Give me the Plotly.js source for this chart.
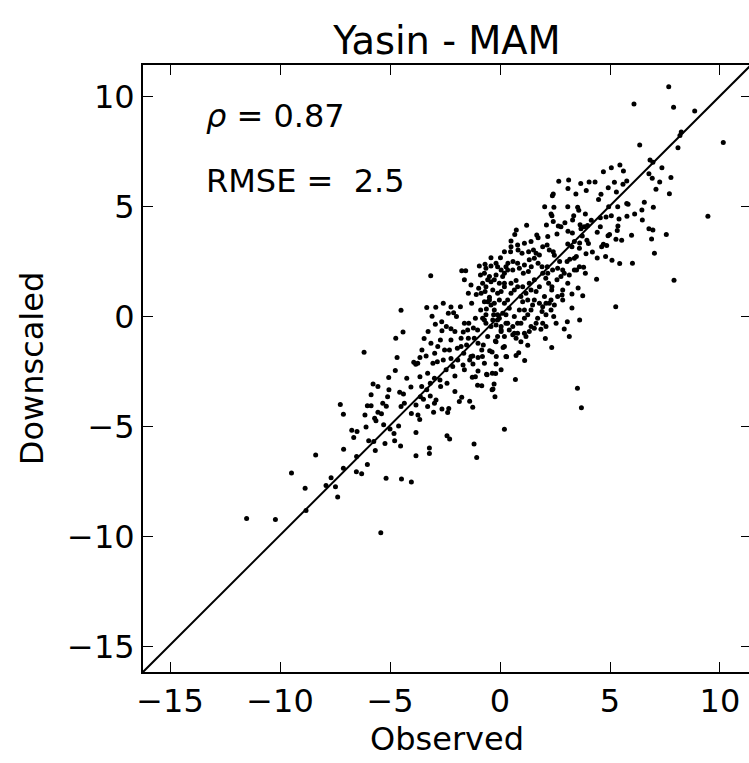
<!DOCTYPE html>
<html>
<head>
<meta charset="utf-8">
<script src="https://cdn.plot.ly/plotly-3.0.1.min.js"></script>
<style>
html, body { margin: 0; padding: 0; overflow: hidden; background: #fff; }
#chart { width: 751px; height: 763px; }
</style>
</head>
<body>
<div id="chart"></div>
<script>
// Observed / Downscaled pairs
const observed = [
7.67,6.09,7.89,8.85,8.24,8.18,6.35,10.15,8.09,6.82,6.95,7.36,6.77,6.92,7.26,7.77,7.09,7.70,5.45,5.06,
4.70,5.61,5.76,5.59,5.20,4.92,5.29,4.59,4.48,4.32,4.05,3.67,3.12,2.67,3.09,3.92,3.45,2.42,2.38,2.03,
2.45,3.08,3.53,3.58,3.35,3.88,2.95,2.32,2.36,2.42,2.65,2.77,2.11,1.21,0.74,0.67,0.50,1.67,1.73,2.59,
3.30,3.64,3.83,3.98,4.15,4.56,4.56,4.42,4.82,5.06,4.94,5.35,5.41,5.36,5.33,5.76,5.82,5.77,6.12,6.56,
6.45,6.47,6.97,6.77,6.95,6.89,5.98,7.56,7.02,6.02,5.44,5.09,4.80,4.42,4.91,4.98,5.27,5.53,4.70,4.85,
4.62,4.20,3.91,4.02,3.95,3.74,3.62,3.61,3.47,3.38,3.17,3.05,3.38,3.27,3.08,3.29,3.68,3.09,4.39,3.88,
3.61,3.48,3.80,3.55,3.76,3.27,2.85,2.82,3.62,3.15,2.92,3.06,3.27,5.26,7.91,9.45,3.52,3.70,2.35,2.06,
1.86,1.26,1.12,0.70,-0.20,-0.23,-0.32,-0.61,-0.18,-0.36,0.30,0.85,0.73,0.14,-0.76,-0.80,
0.48,0.82,1.00,1.30,1.52,1.79,2.14,2.24,2.42,2.47,2.71,2.85,2.77,2.92,2.59,2.36,2.35,2.21,2.08,1.94,
2.15,1.91,1.73,1.56,1.42,1.29,1.06,0.80,0.59,0.36,0.02,-0.41,-0.68,-0.56,-0.18,0.12,0.35,0.50,0.73,1.03,
1.33,1.56,1.79,2.02,2.24,2.47,2.44,2.09,1.91,1.79,1.56,1.26,1.03,0.88,0.65,0.42,0.20,-0.03,-0.26,-0.48,
-0.71,-0.64,-0.33,0.05,0.50,1.41,1.64,1.41,1.11,0.80,0.58,0.35,0.05,-0.11,-0.41,-0.64,-0.79,-0.03,0.27,1.11,
0.95,-0.18,0.20,0.65,
-11.52,-10.21,-8.82,-8.86,-9.48,-8.38,-7.91,-7.68,-7.48,-7.38,-7.12,-7.11,-6.53,-6.29,-6.52,-6.03,-5.42,-5.18,-4.48,-4.03,
-5.67,-5.23,-5.97,-5.74,-6.65,-6.74,-6.50,-6.09,-7.12,-7.26,-6.14,-6.03,-5.86,-5.70,-5.64,-5.55,-5.39,-5.29,-5.17,-5.00,
-4.82,-4.79,-4.52,-4.61,-4.50,-5.86,-5.77,-5.55,-5.06,-5.05,-4.76,-4.56,-4.39,-4.24,-4.05,-4.03,-3.82,-3.73,-3.65,-3.82,
-3.82,-3.21,-3.21,-2.41,-2.29,-1.18,-1.06,0.20,-6.18,-4.68,-4.74,-4.41,-4.50,-3.15,-3.92,-3.83,-3.64,-3.55,-3.64,-3.56,
-3.62,-3.48,-3.17,-2.98,-3.02,-2.91,-2.64,-2.38,-2.33,-2.05,-1.85,-1.74,-1.38,-1.24,-1.12,-1.02,-0.83,-0.36,-0.35,-0.59,
-1.00,-1.26,-1.23,-1.32,-1.68,-2.05,-2.15,-2.41,-2.70,-2.73,-2.98,-3.17,-3.33,-3.29,-3.05,-2.85,-2.97,-3.36,-3.74,-3.45,
-3.27,-3.09,-2.94,-3.33,-2.92,-2.58,-2.23,-2.35,-2.65,-2.44,-2.11,-1.80,-1.98,-2.23,-2.05,-2.64,-2.71,-2.30,-2.52,-2.58,
-2.23,-1.94,-1.77,-1.52,-1.65,-1.38,-1.24,-1.00,-0.83,-1.00,-1.17,-1.44,-1.67,-1.47,-1.21,-1.42,-1.12,-0.88,-0.62,-1.08,
-1.44,-1.29,-0.97,-0.68,-0.41,-0.48,-0.89,-0.94,-0.41,-1.74,-1.56,0.20,-0.11,-0.29,-0.56,-0.47,-0.21,0.05,0.27,-0.17,
-0.27,
-0.56,-0.41,-0.26,-0.11,0.27,0.42,0.58,0.73,0.95,1.18,1.33,1.56,1.71,1.94,2.09,2.32,2.62,2.85,3.08,3.15,
3.38,2.17,2.39,2.62,0.95,1.18,1.41,1.64,0.65,0.80,0.20,-0.03,-0.26,-0.48,-0.71,0.05,0.27,0.58,0.88,1.11,
1.33,1.64,1.94,2.17,1.41,1.11,0.80,0.50,0.20,-0.18,-0.64,-0.79,-0.86,-0.64,-0.33,-0.18,0.05,0.80,1.11,1.26,
1.48,2.32,2.55,1.94,2.09,
-1.62,-1.32,-0.11,0.20,0.35,0.12,-0.11,-0.71,-1.02,-1.62,-1.77,-2.23,-2.83,-3.14,-0.71,0.05,0.20,-1.92,-1.62,-2.45,
-3.29,-4.35,-5.11,-5.33
];
const downscaled = [
10.45,9.67,9.52,9.35,8.39,8.23,7.80,7.92,7.68,7.12,7.02,6.77,6.50,6.29,6.12,6.32,5.79,5.59,6.89,6.77,
6.59,6.62,6.17,6.02,6.11,5.86,5.67,5.56,5.32,6.12,6.12,6.05,6.21,6.15,5.82,5.73,5.58,5.58,5.50,5.00,
4.97,5.00,4.97,4.83,4.59,4.67,4.27,4.67,4.58,4.32,4.12,4.09,4.17,4.15,3.94,3.73,3.44,3.71,3.59,3.76,
4.39,4.18,4.09,4.14,4.38,4.50,4.09,3.83,4.53,4.59,5.00,5.00,4.44,4.12,3.91,5.14,5.11,4.56,4.67,5.20,
4.85,4.39,4.97,4.00,3.94,3.53,3.70,3.73,2.88,2.42,2.41,2.56,2.73,2.67,3.68,3.73,3.52,3.47,3.29,3.23,
3.18,2.94,2.86,3.32,3.47,3.67,3.35,3.11,2.73,2.65,2.61,2.50,3.41,3.18,3.30,3.80,4.00,3.88,1.70,1.97,
2.27,2.12,2.24,1.30,0.95,1.03,0.76,0.98,-0.15,-0.91,-0.56,-0.23,0.39,0.45,1.65,4.56,-3.26,-4.15,-1.41,-1.00,
-0.58,-1.30,-2.00,-2.86,-2.59,-3.64,-3.29,-2.62,-2.15,-1.61,-1.83,-1.64,-1.77,-1.41,-1.29,-1.82,
2.95,3.03,2.88,2.95,3.03,2.80,3.26,3.03,2.95,2.79,2.50,2.12,1.82,1.97,1.67,1.36,1.21,1.52,1.74,1.97,
2.27,2.27,2.42,2.65,2.27,2.05,1.97,2.42,2.50,2.42,2.68,2.68,2.38,1.67,1.89,1.82,2.12,1.52,1.64,1.36,
1.52,1.67,1.36,0.91,0.61,0.53,0.00,0.08,0.23,0.61,0.76,0.76,0.68,0.30,0.00,0.38,0.61,0.76,0.61,0.76,
0.68,1.36,1.21,1.14,1.06,0.30,-0.30,-0.45,-0.76,-0.76,-0.45,-0.30,-0.68,-0.91,-0.45,-0.30,-0.08,-0.08,0.08,-0.08,
-0.30,-1.14,-0.91,-0.76,
-9.18,-9.23,-8.82,-7.80,-7.11,-6.29,-7.68,-7.33,-7.74,-8.20,-6.89,-6.03,-7.05,-7.14,-6.36,-6.73,-9.83,-7.35,-7.39,-7.52,
-6.09,-5.77,-5.64,-5.68,-5.50,-5.17,-5.23,-5.02,-4.44,-4.00,-4.48,-4.05,-4.05,-4.62,-4.74,-4.35,-4.42,-4.92,-4.08,-5.11,
-5.32,-5.65,-5.88,-4.97,-4.09,-3.55,-3.06,-3.18,-2.77,-3.33,-2.45,-3.44,-3.52,-2.80,-3.20,-4.41,-4.02,-4.47,-4.68,-5.27,
-6.33,-5.98,-6.23,-5.42,-5.56,-5.79,-6.41,-5.12,-1.62,-1.86,-0.98,-0.70,0.29,1.86,-2.08,-2.17,-1.86,-1.52,-2.73,-3.18,
-3.64,-3.76,-3.61,-3.94,-4.35,-3.79,-4.20,-4.36,-4.18,-3.41,-3.86,-3.67,-3.85,-4.12,-2.73,-3.12,-3.14,-3.33,-2.58,-2.64,
-2.47,-2.76,-2.15,-1.82,-2.20,-2.70,-2.27,-3.03,-3.18,-2.88,-2.80,-3.03,-3.33,-2.58,-2.12,-2.05,-1.67,-1.79,-2.12,-1.00,
-0.68,0.02,-0.35,0.41,0.42,0.61,0.44,0.15,-0.23,-0.45,0.17,0.45,0.00,-0.55,-0.68,-0.64,-1.06,-1.52,-1.52,-1.97,
-1.91,-1.44,-1.36,-1.29,-1.67,-1.97,-1.79,-1.86,-1.52,-1.21,-0.98,-0.98,-0.70,-0.61,-0.52,-0.30,-0.08,0.30,0.35,1.00,
1.06,0.61,1.29,1.14,1.59,0.88,1.89,2.30,2.30,2.09,2.09,1.97,1.06,0.08,-0.91,-1.55,-1.11,-0.61,-1.82,-1.82,
-3.06,
0.68,0.53,0.30,0.08,-0.30,-0.61,-0.83,-0.98,-1.14,-0.91,-0.68,-0.53,-0.08,0.45,0.61,0.76,0.91,1.21,1.52,1.89,
2.12,1.97,2.12,2.20,0.91,1.06,1.21,1.14,1.21,1.36,1.36,1.52,1.67,1.82,1.97,2.12,2.27,2.12,2.20,2.35,
2.58,2.88,3.18,3.64,3.41,3.33,3.26,3.18,2.95,2.42,2.20,1.52,1.06,0.08,-0.15,-0.38,-0.45,-0.30,0.30,0.08,
0.53,0.30,-0.30,-0.30,-0.45,
1.67,1.44,2.27,1.52,0.76,0.15,-0.15,-0.15,-0.61,-0.30,-0.98,-1.06,-1.36,-1.21,-2.12,-2.42,-1.36,-1.97,-2.42,-2.42,
-4.09,-3.94,-3.64,-3.94
];
const axisRange = [-16.23, 11.41];
const yRange = [-16.16, 11.44];
const tickVals = [-15, -10, -5, 0, 5, 10];
const tickText = ["\u221215", "\u221210", "\u22125", "0", "5", "10"];
const titleText = "Yasin - MAM";
const rhoText = "<i>\u03c1</i> = 0.87";
const rmseText = "RMSE = \u00a02.5";

const font = "DejaVu Sans, Liberation Sans, sans-serif";
const fs = 32;

const traces = [
  {
    type: "scatter", mode: "markers",
    x: observed, y: downscaled,
    marker: { color: "#000000", size: 5, line: { width: 0 } },
    hoverinfo: "x+y", showlegend: false
  },
  {
    type: "scatter", mode: "lines",
    x: [axisRange[0], axisRange[1]], y: [yRange[0], yRange[1]],
    line: { color: "#000000", width: 2 },
    hoverinfo: "skip", showlegend: false
  }
];

const axisCommon = {
  showgrid: false, zeroline: false,
  showline: true, linecolor: "#000000", linewidth: 2,
  mirror: "allticks",
  ticks: "inside", ticklen: 10, tickwidth: 1, tickcolor: "#000000",
  tickvals: tickVals, ticktext: tickText,
  tickfont: { family: font, size: fs, color: "#000000" },
  automargin: false
};

const layout = {
  width: 751, height: 763,
  margin: { l: 143, r: 0, t: 65, b: 91, pad: 0 },
  paper_bgcolor: "#ffffff", plot_bgcolor: "#ffffff",
  font: { family: font, color: "#000000" },
  title: {
    text: titleText,
    font: { family: font, size: 38.4, color: "#000000" },
    xref: "paper", x: 0.5, xanchor: "center",
    yref: "container", y: 1 - 41 / 763, yanchor: "middle"
  },
  xaxis: Object.assign({}, axisCommon, {
    range: axisRange,
    title: { text: "Observed", font: { family: font, size: fs, color: "#000000" }, standoff: 8 }
  }),
  yaxis: Object.assign({}, axisCommon, {
    range: yRange,
    title: { text: "Downscaled", font: { family: font, size: fs, color: "#000000" }, standoff: 14 }
  }),
  annotations: [
    { text: rhoText, xref: "x", yref: "y", x: -13.45, y: 9.12, xanchor: "left", yanchor: "middle",
      showarrow: false, font: { family: font, size: fs, color: "#000000" } },
    { text: rmseText, xref: "x", yref: "y", x: -13.45, y: 6.17, xanchor: "left", yanchor: "middle",
      showarrow: false, font: { family: font, size: fs, color: "#000000" } }
  ]
};

Plotly.newPlot("chart", traces, layout, { displayModeBar: false, staticPlot: true });
</script>
</body>
</html>
